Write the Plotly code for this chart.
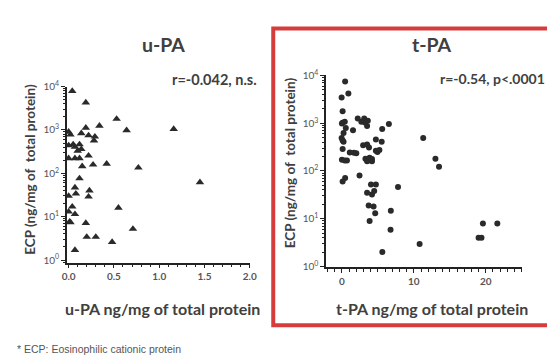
import plotly.graph_objects as go

# u-PA (ng/mg) vs ECP (ng/mg)
upa_x = [0.04, 0.19, 0.53, 0.34, 0.64, 0.19, 0.14, 0.22, 0.29, 0.28, 0.00, 0.02,
         0.05, 0.07, 0.12, 0.14, 0.10, 0.00, 0.22, 0.00, 0.07, 0.12, 0.15, 0.27,
         0.42, 0.77, 1.16, 1.45, 0.12, 0.07, 0.23, 0.08, 0.22, 0.00, 0.04, 0.55,
         0.07, 0.00, 0.02, 0.01, 0.19, 0.71, 0.20, 0.30, 0.48, 0.07]
upa_y = [7900, 4300, 1800, 1250, 980, 1120, 840, 750, 700, 570, 910, 780,
         465, 405, 465, 360, 330, 440, 255, 222, 222, 222, 145, 158,
         166, 135, 1050, 62, 76, 47, 40, 34, 29, 30, 17, 16,
         11.4, 13, 7.4, 7.6, 7.1, 5.2, 3.4, 3.4, 2.6, 1.7]

# t-PA (ng/mg) vs ECP (ng/mg)
tpa_x = [0.45, 0.9, -0.04, 0.1, 0.1, 0.4, 0.0, 0.54, 1.54, 0.23, -0.04, 0.1,
         0.23, 0.1, 1.1, 1.67, 2.0, 0.0, 0.4, 0.7, 0.45, 0.1, 2.2, 2.7,
         3.1, 3.6, 3.2, 3.5, 2.95, 3.5, 3.77, 4.72, 5.53, 5.6, 6.53, 4.72,
         4.94, 5.21, 4.18, 3.85, 3.63, 4.18, 3.27, 3.5, 2.45, 4.04, 4.72, 4.49,
         3.5, 4.18, 7.8, 3.72, 4.4, 4.63, 6.8, 3.85, 6.76, 5.62, 10.8, 11.3,
         13.0, 13.5, 19.0, 19.4, 19.6, 21.6]
tpa_y = [7500, 4200, 3450, 1780, 1020, 1070, 980, 790, 715, 620, 490, 435,
         410, 290, 245, 240, 235, 172, 166, 166, 71, 60, 1250, 1070,
         1250, 1120, 1040, 870, 345, 360, 310, 455, 410, 760, 960, 265,
         250, 275, 160, 190, 166, 177, 180, 160, 80, 52, 52, 38,
         35, 32, 46, 19, 18, 13, 14.7, 9, 5.9, 2.0, 2.96, 490,
         180, 122, 4.0, 4.0, 7.9, 7.9]

y_tickvals = [1, 10, 100, 1000, 10000]
y_ticktext = ["10<sup>0</sup>", "10<sup>1</sup>", "10<sup>2</sup>", "10<sup>3</sup>", "10<sup>4</sup>"]
upa_ticks = [0.0, 0.5, 1.0, 1.5, 2.0]
upa_ticktext = ["<b>0.0</b>", "<b>0.5</b>", "<b>1.0</b>", "<b>1.5</b>", "<b>2.0</b>"]
tpa_ticks = [0, 10, 20]
tpa_ticktext = ["<b>0</b>", "<b>10</b>", "<b>20</b>"]

W, H = 555, 355
def px(x): return x / W
def py(y): return 1 - y / H

mark_col = "#2a2a2a"
txt_col = "#404040"
FONT = "Lato"

fig = go.Figure()
fig.add_trace(go.Scatter(x=upa_x, y=upa_y, mode="markers", xaxis="x", yaxis="y",
                         marker=dict(symbol="triangle-up", size=7.5, color=mark_col),
                         showlegend=False))
fig.add_trace(go.Scatter(x=tpa_x, y=tpa_y, mode="markers", xaxis="x2", yaxis="y2",
                         marker=dict(symbol="circle", size=6, color=mark_col),
                         showlegend=False))

axis_common = dict(showline=True, linecolor="#222", linewidth=1.5, ticks="outside",
                   tickcolor="#222", ticklen=4, tickwidth=1.2, showgrid=False, zeroline=False,
                   tickfont=dict(family=FONT, size=10, color="#555"))

minor_log = dict(ticks="outside", ticklen=2.5, tickcolor="#222", tickwidth=1, dtick="D1", showgrid=False)

fig.update_layout(
    width=W, height=H, margin=dict(l=0, r=0, t=0, b=0),
    paper_bgcolor="white", plot_bgcolor="white",
    xaxis=dict(domain=[px(55), px(242)], range=[-0.02, 2.0], tickvals=upa_ticks,
               ticktext=upa_ticktext, anchor="y",
               minor=dict(ticks="outside", ticklen=2.5, tickcolor="#222", dtick=0.1, showgrid=False),
               **axis_common),
    yaxis=dict(domain=[py(256), py(73.3)], type="log", range=[-0.06, 4.0], tickvals=y_tickvals,
               ticktext=y_ticktext, anchor="x", minor=minor_log, **axis_common),
    xaxis2=dict(domain=[px(320), px(520)], range=[-2.2, 25.0], tickvals=tpa_ticks,
                ticktext=tpa_ticktext, anchor="y2",
                minor=dict(ticks="outside", ticklen=2.5, tickcolor="#222", dtick=1, showgrid=False),
                **axis_common),
    yaxis2=dict(domain=[py(261), py(61.7)], type="log", range=[-0.02, 4.0], tickvals=y_tickvals,
                ticktext=y_ticktext, anchor="x2", minor=minor_log, **axis_common),
)

fig.add_shape(type="rect", xref="paper", yref="paper",
              x0=px(266), x1=px(552), y0=py(321), y1=py(13),
              line=dict(color="#d63c3c", width=4))

def ann(text, x, y, size, xanchor="center", bold=True, angle=0, color=txt_col, family=FONT):
    fig.add_annotation(text=f"<b>{text}</b>" if bold else text, x=px(x), y=py(y),
                       xref="paper", yref="paper", showarrow=False, xanchor=xanchor,
                       yanchor="middle", textangle=angle,
                       font=dict(family=family, size=size, color=color))

ann("u-PA", 154, 30, 19.5)
ann("t-PA", 428, 30, 19.5)
ann("r=-0.042, n.s.", 251, 66, 14.5, xanchor="right")
ann("r=-0.54, p&lt;.0001", 546, 65, 14, xanchor="right")
ann("ECP (ng/mg of  total protein)", 18, 159, 13.5, angle=-90)
ann("ECP (ng/mg of  total protein)", 284, 152, 13.5, angle=-90)
ann("u-PA ng/mg of total protein", 153, 304, 16)
ann("t-PA ng/mg of total protein", 428, 304, 16)
ann("* ECP: Eosinophilic cationic protein", 2, 346, 10.5, xanchor="left", bold=False,
    color="#555", family="Liberation Sans")

fig.write_html("out.html")
